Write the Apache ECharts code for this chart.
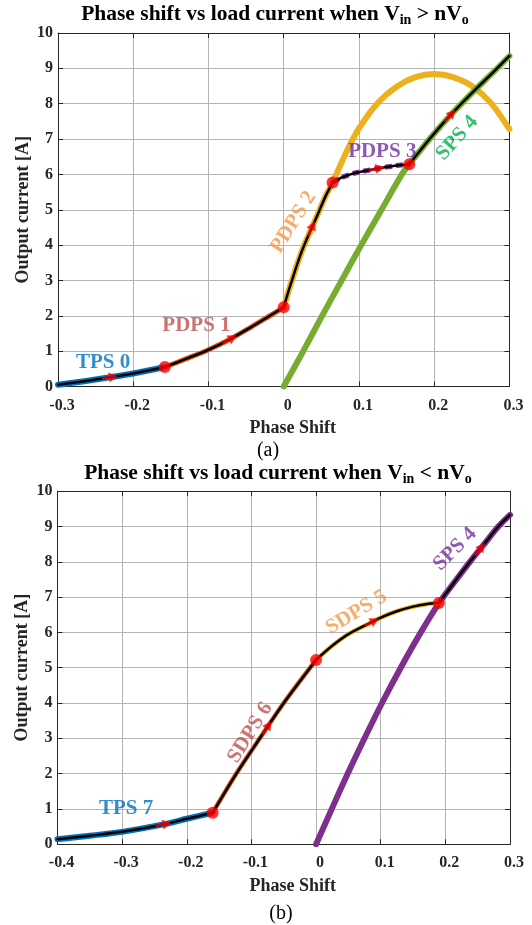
<!DOCTYPE html>
<html><head><meta charset="utf-8">
<script src="https://cdn.jsdelivr.net/npm/echarts@6/dist/echarts.min.js"></script>
<style>html,body{margin:0;padding:0;background:#fff}#c{width:532px;height:925px}</style>
</head><body><div id="c"></div>
<script>
// ---------------- data : chart (a)  Vin > nVo ----------------
const xTicksA = [-0.3, 0.3, 0.1];      // min, max, interval
const yTicks  = [0, 10, 1];
const tps0  = [[-0.3,0.05],[-0.265,0.15],[-0.231,0.26],[-0.195,0.39],[-0.158,0.55]];
const pdps1 = [[-0.158,0.55],[-0.13,0.78],[-0.1,1.04],[-0.072,1.33],[-0.045,1.66],[-0.02,1.98],[0,2.24]];
const pdps2 = [[0,2.24],[0.0094,2.9],[0.0245,3.85],[0.0436,4.79],[0.056,5.4],[0.065,5.77]];
const pdps2Rest = [[0.065,5.77],[0.083,6.62],[0.1,7.3],[0.125,8.02],[0.15,8.48],[0.175,8.75],[0.2,8.84],[0.225,8.75],[0.25,8.5],[0.275,8.03],[0.3,7.28]];
const pdps3 = [[0.065,5.77],[0.078,5.92],[0.095,6.04],[0.1234,6.16],[0.15,6.25],[0.167,6.29]];
const sps4A = [[0,0],[0.026,1],[0.051,2],[0.077,3],[0.103,4],[0.13,5],[0.157,6],[0.167,6.29],[0.195,7.03],[0.221,7.66],[0.25,8.3],[0.28,8.92],[0.3,9.35]];
const arrowXA = {tps0:-0.231, pdps1:-0.0717, pdps2:0.037, pdps3:0.1234, sps4:0.221};

// ---------------- data : chart (b)  Vin < nVo ----------------
const xTicksB = [-0.4, 0.3, 0.1];
const tps7  = [[-0.4,0.14],[-0.35,0.24],[-0.3,0.35],[-0.236,0.56],[-0.2,0.72],[-0.16,0.89]];
const sdps6 = [[-0.16,0.89],[-0.124,1.98],[-0.087,3.0],[-0.05,4.0],[0,5.22]];
const sdps5 = [[0,5.22],[0.025,5.62],[0.05,5.95],[0.086,6.29],[0.1,6.42],[0.125,6.6],[0.15,6.73],[0.17,6.8],[0.19,6.83]];
const sps4B = [[0,0],[0.0243,1],[0.049,2],[0.075,3],[0.102,4],[0.131,5],[0.162,6],[0.19,6.83],[0.213,7.4],[0.238,8],[0.26,8.5],[0.282,9],[0.3,9.33]];
const arrowXB = {tps7:-0.236, sdps6:-0.076, sdps5:0.086, sps4:0.2535};

// ---------------- annotations ----------------
const labelsA = [
  {text:'TPS 0',  at:[-0.24,0.67],  rot:0,  color:'#0070C0'},
  {text:'PDPS 1', at:[-0.116,1.71], rot:0,  color:'#C0504D'},
  {text:'PDPS 2', at:[0.013,4.65],  rot:58, color:'#F79646'},
  {text:'PDPS 3', at:[0.131,6.64],  rot:0,  color:'#7030A0'},
  {text:'SPS 4',  at:[0.2306,7.03], rot:48, color:'#00B050'}
];
const labelsB = [
  {text:'TPS 7',  at:[-0.294,1.01], rot:0,  color:'#0070C0'},
  {text:'SDPS 6', at:[-0.102,3.16], rot:58, color:'#C0504D'},
  {text:'SDPS 5', at:[0.0623,6.57], rot:31, color:'#F79646'},
  {text:'SPS 4',  at:[0.215,8.36],  rot:45, color:'#7030A0'}
];

const FONT = "'Liberation Serif','Times New Roman',serif";
const C = {blue:'#0072BD', orange:'#D95319', yellow:'#EDB120', purple:'#7E2F8E', green:'#77AC30', black:'#000000', red:'#FF0000'};
const ARROW = 'path://M5,0 L10,9 L6.2,9 L6.2,16 L3.8,16 L3.8,9 L0,9 Z';

function interp(curve, x){
  for (let i=0;i<curve.length-1;i++){
    const a=curve[i], b=curve[i+1];
    if (x>=a[0] && x<=b[0]) { const t=(x-a[0])/(b[0]-a[0]); return a[1]+t*(b[1]-a[1]); }
  }
  return curve[curve.length-1][1];
}
function segAt(curve, x){
  for (let i=0;i<curve.length-1;i++){ if (x>=curve[i][0] && x<=curve[i+1][0]) return [curve[i],curve[i+1]]; }
  return [curve[curve.length-2],curve[curve.length-1]];
}

function line(g, data, color, width, z, extra){
  return Object.assign({type:'line', xAxisIndex:g*2, yAxisIndex:g*2, data:data, showSymbol:false, symbol:'none',
    smooth:0.3, lineStyle:{color:color, width:width, cap:'round', join:'round'}, z:z, silent:true, animation:false}, extra||{});
}

function axesFor(g, ticks){
  const base = {min:ticks[0], max:ticks[1], interval:ticks[2], gridIndex:g};
  const axLine = {show:true, onZero:false, lineStyle:{color:'#262626', width:1}};
  const tick = {show:true, inside:true, length:5, lineStyle:{color:'#262626'}};
  const xs = [
    Object.assign({type:'value', position:'bottom', axisLine:axLine, axisTick:tick,
      splitLine:{show:true, lineStyle:{color:'#b4b4b4', width:1}},
      axisLabel:{color:'#262626', fontFamily:FONT, fontWeight:'bold', fontSize:16, margin:11, padding:[0,0,0,8],
        formatter:v=> (Math.abs(v)<1e-9?'0':(Math.round(v*10)/10).toFixed(1))},
      name:'Phase Shift', nameLocation:'middle', nameGap:33,
      nameTextStyle:{color:'#262626', fontFamily:FONT, fontWeight:'bold', fontSize:18, padding:[0,0,0,18]}}, base),
    Object.assign({type:'value', position:'top', axisLine:axLine, axisTick:tick, splitLine:{show:false}, axisLabel:{show:false}}, base)
  ];
  const ybase = {min:yTicks[0], max:yTicks[1], interval:yTicks[2], gridIndex:g};
  const ys = [
    Object.assign({type:'value', position:'left', axisLine:axLine, axisTick:tick,
      splitLine:{show:true, lineStyle:{color:'#b4b4b4', width:1}},
      axisLabel:{color:'#262626', fontFamily:FONT, fontWeight:'bold', fontSize:16, margin:5},
      name:'Output current [A]', nameLocation:'middle', nameGap:26, nameMoveOverlap:false,
      nameTextStyle:{color:'#262626', fontFamily:FONT, fontWeight:'bold', fontSize:18}}, ybase),
    Object.assign({type:'value', position:'right', axisLine:axLine, axisTick:tick, splitLine:{show:false}, axisLabel:{show:false}}, ybase)
  ];
  return {xs, ys};
}

const axA = axesFor(0, xTicksA), axB = axesFor(1, xTicksB);

function labelSeries(g, labels){
  return labels.map(l => ({type:'scatter', xAxisIndex:g*2, yAxisIndex:g*2, data:[l.at], symbolSize:1,
    itemStyle:{color:'rgba(0,0,0,0)'}, silent:true, animation:false, z:20,
    label:{show:true, position:'inside', formatter:l.text, rotate:l.rot, color:l.color,
      fontFamily:FONT, fontWeight:'bold', fontSize:21}}));
}
function dotSeries(g, pts){
  return {type:'scatter', xAxisIndex:g*2, yAxisIndex:g*2, data:pts, symbol:'circle', symbolSize:12,
    itemStyle:{color:C.red}, z:15, silent:true, animation:false};
}

const yellowA = pdps2.concat(pdps2Rest.slice(1));
const sps4AUpper = [pdps3[pdps3.length-1]].concat(sps4A.filter(p=>p[0]>pdps3[pdps3.length-1][0]));
const sps4BUpper = [sdps5[sdps5.length-1]].concat(sps4B.filter(p=>p[0]>sdps5[sdps5.length-1][0]));

const arrowDefsA = [[tps0,arrowXA.tps0],[pdps1,arrowXA.pdps1],[pdps2,arrowXA.pdps2],[pdps3,arrowXA.pdps3],[sps4A,arrowXA.sps4]];
const arrowDefsB = [[tps7,arrowXB.tps7],[sdps6,arrowXB.sdps6],[sdps5,arrowXB.sdps5],[sps4B,arrowXB.sps4]];

function arrowSeries(g, defs, rots){
  return {type:'scatter', xAxisIndex:g*2, yAxisIndex:g*2, symbol:ARROW, symbolSize:[10,16], symbolKeepAspect:false,
    itemStyle:{color:C.red}, z:16, silent:true, animation:false,
    data: defs.map((d,i)=>({value:[d[1], interp(d[0], d[1])], symbolRotate: rots? rots[i]:0}))};
}

const series = [
  // chart a
  line(0, yellowA, C.yellow, 6, 2),
  line(0, sps4A, C.green, 6, 3),
  line(0, tps0, C.blue, 6, 4),
  line(0, pdps1, C.orange, 5, 4),
  line(0, pdps3, C.purple, 5, 4, {lineStyle:{color:C.purple, width:5, type:[7,4]}}),
  line(0, tps0, C.black, 2.5, 10),
  line(0, pdps1, C.black, 2.5, 10),
  line(0, pdps2, C.black, 2.5, 10),
  line(0, pdps3, C.black, 2.5, 10),
  line(0, sps4AUpper, C.black, 2.5, 10),
  dotSeries(0, [tps0[tps0.length-1], pdps1[pdps1.length-1], pdps2[pdps2.length-1], pdps3[pdps3.length-1]]),
  arrowSeries(0, arrowDefsA, null),
  ...labelSeries(0, labelsA),
  // chart b
  line(1, sps4B, C.purple, 6, 3),
  line(1, tps7, C.blue, 6, 4),
  line(1, sdps6, C.orange, 4.5, 4),
  line(1, sdps5, C.yellow, 4.5, 4),
  line(1, tps7, C.black, 2.5, 10),
  line(1, sdps6, C.black, 2.5, 10),
  line(1, sdps5, C.black, 2.5, 10),
  line(1, sps4BUpper, C.black, 2.5, 10),
  dotSeries(1, [tps7[tps7.length-1], sdps6[sdps6.length-1], sdps5[sdps5.length-1]]),
  arrowSeries(1, arrowDefsB, null),
  ...labelSeries(1, labelsB)
];

const titleRich = {
  a:{fontFamily:FONT, fontWeight:'bold', fontSize:21.5, lineHeight:26, fill:'#000', color:'#000'},
  b:{fontFamily:FONT, fontWeight:'bold', fontSize:14, lineHeight:10, verticalAlign:'bottom', fill:'#000', color:'#000'}
};

const option = {
  backgroundColor:'#ffffff',
  animation:false,
  grid:[
    {left:58, top:33, width:451.4, height:353.5, containLabel:false},
    {left:57.5, top:491.2, width:452.5, height:353, containLabel:false}
  ],
  xAxis:[...axA.xs, ...axB.xs],
  yAxis:[...axA.ys, ...axB.ys],
  graphic:[
    {type:'text', x:275, y:14, style:{text:'{a|Phase shift vs load current when V}{b|in}{a| > nV}{b|o}', rich:titleRich, align:'center', verticalAlign:'middle'}},
    {type:'text', x:278, y:473.5, style:{text:'{a|Phase shift vs load current when V}{b|in}{a| < nV}{b|o}', rich:titleRich, align:'center', verticalAlign:'middle'}},
    {type:'text', x:268, y:451, style:{text:'(a)', font:"20px "+FONT, fill:'#000', align:'center', verticalAlign:'middle'}},
    {type:'text', x:281, y:914, style:{text:'(b)', font:"20px "+FONT, fill:'#000', align:'center', verticalAlign:'middle'}}
  ],
  series: series
};

const chart = echarts.init(document.getElementById('c'), null, {renderer:'canvas'});
chart.setOption(option);

// rotate the direction arrows along the local tangent in pixel space
function rotations(g, defs){
  return defs.map(d=>{
    const s = segAt(d[0], d[1]);
    const p1 = chart.convertToPixel({gridIndex:g}, s[0]);
    const p2 = chart.convertToPixel({gridIndex:g}, s[1]);
    const ang = Math.atan2(-(p2[1]-p1[1]), p2[0]-p1[0]) * 180/Math.PI;
    return ang - 90;
  });
}
const rotA = rotations(0, arrowDefsA), rotB = rotations(1, arrowDefsB);
const newSeries = series.slice();
newSeries[series.findIndex(s=>s.symbol===ARROW && s.xAxisIndex===0)] = arrowSeries(0, arrowDefsA, rotA);
newSeries[series.findIndex(s=>s.symbol===ARROW && s.xAxisIndex===2)] = arrowSeries(1, arrowDefsB, rotB);
chart.setOption({series:newSeries});
</script>
</body></html>
